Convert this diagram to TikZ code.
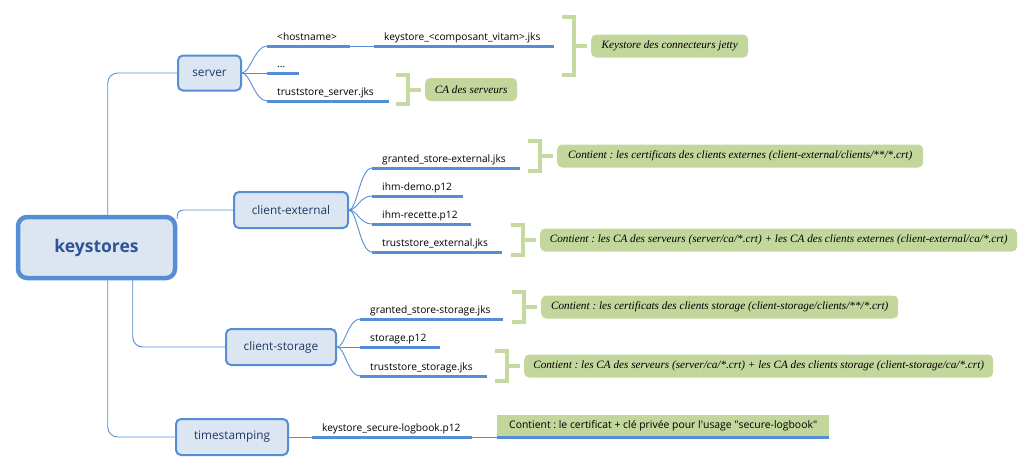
\documentclass[tikz,border=0pt]{standalone}
\usepackage{fontspec}
\setmainfont{Open Sans}
\newfontfamily\notefont{Liberation Serif}
\usetikzlibrary{calc}
\definecolor{bfill}{HTML}{DCE6F2}
\definecolor{bline}{HTML}{558ED5}
\definecolor{btext}{HTML}{1F3864}
\definecolor{rtext}{HTML}{2F5496}
\definecolor{gfill}{HTML}{C3D69B}
\definecolor{gbr}{HTML}{C6D9A0}
\frenchspacing
\newcommand{\gbracket}[2]{%
  \draw[brk] ($(#1.west)+(-29,-#2)$) -- ($(#1.west)+(-17,-#2)$) -- ($(#1.west)+(-17,#2)$) -- ($(#1.west)+(-29,#2)$);
  \draw[brk] ($(#1.west)+(-17,0)$) -- ($(#1.west)+(-4,0)$);}
\begin{document}
\begin{tikzpicture}[x=1pt,y=-1pt,
  topic/.style={draw=bline, fill=bfill, line width=2pt, rounded corners=5pt, inner sep=0pt, text=btext, font=\fontsize{11.8}{13}\selectfont},
  rootbox/.style={draw=bline, fill=bfill, line width=4.5pt, rounded corners=9pt, inner sep=0pt, text=rtext, font=\fontsize{17.5}{20}\selectfont\bfseries},
  leaf/.style={anchor=south west, inner xsep=10pt, inner ysep=3pt, text height=7.5pt, text depth=2pt, text width=#1, align=left, font=\fontsize{10.2}{11}\selectfont},
  ul/.style={draw=bline, line width=3pt},
  conn/.style={draw=bline, line width=0.9pt},
  note/.style={fill=gfill, rounded corners=5pt, minimum height=23pt, minimum width=#1, inner sep=0pt, anchor=west, font=\notefont\itshape\fontsize{11.2}{13}\selectfont},
  tsnote/.style={fill=gfill, minimum height=22pt, minimum width=332pt, inner sep=0pt, anchor=south west, font=\fontsize{10.4}{11}\selectfont},
  brk/.style={draw=gbr, line width=4pt},
  fan/.style={conn},
]
\useasboundingbox (0,0) rectangle (1032,472);

% main topics
\node[rootbox, minimum width=157pt, minimum height=61pt] (rootn) at (96.5,247.5) {keystores};
\node[topic, minimum width=63pt, minimum height=35pt] (server) at (209.5,73) {server};
\node[topic, minimum width=114pt, minimum height=36pt] (cext) at (291,210) {client-external};
\node[topic, minimum width=110pt, minimum height=36pt] (cstor) at (281,347) {client-storage};
\node[topic, minimum width=112pt, minimum height=36pt] (tstamp) at (232,437) {timestamping};

% root connectors
\draw[conn, rounded corners=10pt] ($(rootn.north west)+(92,0)$) |- (server.west);
\draw[conn, rounded corners=6pt] ($(rootn.north east)+(0,4)$) |- (cext.west);
\draw[conn, rounded corners=10pt] ($(rootn.south west)+(117,0)$) |- (cstor.west);
\draw[conn, rounded corners=10pt] ($(rootn.south west)+(92,0)$) |- (tstamp.west);

% server leaves
\node[leaf=63pt] (hn) at (267,46) {<hostname>};
\node[leaf=160pt] (ksj) at (374,46) {keystore\_<composant\_vitam>.jks};
\node[leaf=12pt] (dots) at (267,73) {...};
\node[leaf=102pt] (tss) at (267,101) {truststore\_server.jks};
\foreach \n in {hn,ksj,dots,tss} \draw[ul] (\n.south west) -- (\n.south east);
\draw[fan] (server.east) .. controls +(8,0) and +(-12,0) .. (hn.south west);
\draw[fan] (server.east) -- (dots.south west);
\draw[fan] (server.east) .. controls +(8,0) and +(-12,0) .. (tss.south west);
\draw[conn] (hn.south east) -- (ksj.south west);

% client-external leaves
\node[leaf=128pt] (gse) at (372,168) {granted\_store-external.jks};
\node[leaf=71pt] (demo) at (372,196) {ihm-demo.p12};
\node[leaf=79pt] (rec) at (372,224) {ihm-recette.p12};
\node[leaf=110pt] (tse) at (372,252) {truststore\_external.jks};
\foreach \n in {gse,demo,rec,tse} {
  \draw[ul] (\n.south west) -- (\n.south east);
  \draw[fan] (cext.east) .. controls +(8,0) and +(-12,0) .. (\n.south west);
}

% client-storage leaves
\node[leaf=123pt] (gss) at (360,319) {granted\_store-storage.jks};
\node[leaf=60pt] (stp) at (360,347) {storage.p12};
\node[leaf=107pt] (tsst) at (360,376) {truststore\_storage.jks};
\foreach \n in {gss,stp,tsst} \draw[ul] (\n.south west) -- (\n.south east);
\draw[fan] (cstor.east) .. controls +(8,0) and +(-12,0) .. (gss.south west);
\draw[fan] (cstor.east) -- (stp.south west);
\draw[fan] (cstor.east) .. controls +(8,0) and +(-12,0) .. (tsst.south west);

% timestamping leaf
\node[leaf=140pt] (ksl) at (312,437) {keystore\_secure-logbook.p12};
\draw[ul] (ksl.south west) -- (ksl.south east);
\draw[conn] (tstamp.east) -- (ksl.south west);
\node[tsnote] (tsn) at (497,437) {Contient : le certificat + clé privée pour l\textquotesingle usage \textquotedbl secure-logbook\textquotedbl};
\draw[ul] (tsn.south west) -- (tsn.south east);
\draw[conn] (ksl.south east) -- (tsn.south west);

% notes
\node[note=157pt] (n1) at (591,46) {Keystore des connecteurs jetty};
\node[note=92pt] (n2) at (425,89.5) {CA des serveurs};
\node[note=366pt] (n3) at (557,156) {Contient : les certificats des clients externes (client-external/clients/**/*.crt)};
\node[note=477pt] (n4) at (540,240) {Contient : les CA des serveurs (server/ca/*.crt) + les CA des clients externes (client-external/ca/*.crt)};
\node[note=357pt] (n5) at (541,307) {Contient : les certificats des clients storage (client-storage/clients/**/*.crt)};
\node[note=469pt] (n6) at (524,366) {Contient : les CA des serveurs (server/ca/*.crt) + les CA des clients storage (client-storage/ca/*.crt)};
\gbracket{n1}{29}
\gbracket{n2}{14.5}
\gbracket{n3}{15}
\gbracket{n4}{15}
\gbracket{n5}{15}
\gbracket{n6}{15}
\end{tikzpicture}
\end{document}
